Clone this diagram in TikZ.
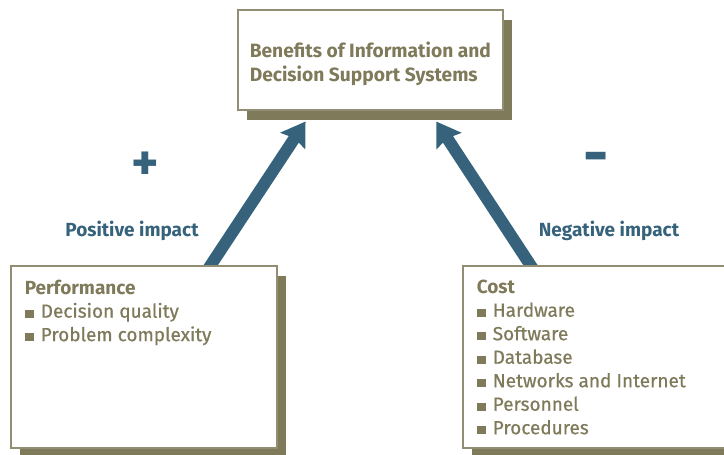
\documentclass[tikz,border=0pt]{standalone}
\usepackage{fontspec}
\setmainfont{Fira Sans}[UprightFeatures={FakeBold=0.6}]
\usetikzlibrary{positioning,arrows.meta,shadows,calc,backgrounds}
\definecolor{olivegray}{HTML}{7F7A5A}
\definecolor{impactblue}{HTML}{36637B}
\newcommand{\sqitem}[1]{\textcolor{olivegray}{\rule{9pt}{8pt}}\hspace{7pt}#1\par}

\begin{document}
\begin{tikzpicture}[x=1pt,y=-1pt,
box/.style={draw=olivegray!85, line width=1.5pt, fill=white, text=olivegray, align=left, anchor=north west,
  drop shadow={shadow xshift=9pt, shadow yshift=-10pt, fill=olivegray, opacity=1}},
listbox/.style={box, inner xsep=14pt, inner ysep=14pt, font=\fontsize{19}{23.5}\selectfont},
sign/.style={text=impactblue, font=\bfseries\fontsize{52}{52}\selectfont},
impact/.style={text=impactblue, font=\bfseries\fontsize{19}{20}\selectfont},
bigarrow/.style={-{Stealth[length=23pt,width=29pt,inset=3pt]}, line width=12pt, impactblue}
]
\useasboundingbox (0,0) rectangle (724,455);
% boxes
\node[box, inner xsep=12pt, minimum width=265pt, minimum height=100pt, text height=48pt,
  font=\bfseries\fontsize{19.2}{24}\selectfont] (benefits) at (237,9)
  {Benefits of Information and\\Decision Support Systems};
\node[listbox] (perf) at (10,265) {\parbox[c][154pt][t]{238pt}{%
  \textbf{Performance}\par
  \sqitem{Decision quality}
  \sqitem{Problem complexity}}};
\node[listbox] (cost) at (462,265) {\parbox[c][154pt][t]{238pt}{%
  \textbf{Cost}\par
  \sqitem{Hardware}
  \sqitem{Software}
  \sqitem{Database}
  \sqitem{Networks and Internet}
  \sqitem{Personnel}
  \sqitem{Procedures}}};
% impact labels
\node[sign] (plus) at (145,166) {+};
\node[sign, font=\bfseries\fontsize{62}{62}\selectfont] (minus) at (596,164) {-};
\node[impact] (pos) at (132,231) {Positive impact};
\node[impact] (neg) at (609,231) {Negative impact};
% arrows
\begin{scope}[on background layer]
\draw[bigarrow] ($(perf.north west)!0.726!(perf.north east)+(0,10)$) -- ($(benefits.south west)!0.257!(benefits.south east)+(0,11)$);
\draw[bigarrow] ($(cost.north west)!0.28!(cost.north east)+(0,10)$) -- ($(benefits.south west)!0.747!(benefits.south east)+(0,11)$);
\end{scope}
\end{tikzpicture}
\end{document}
